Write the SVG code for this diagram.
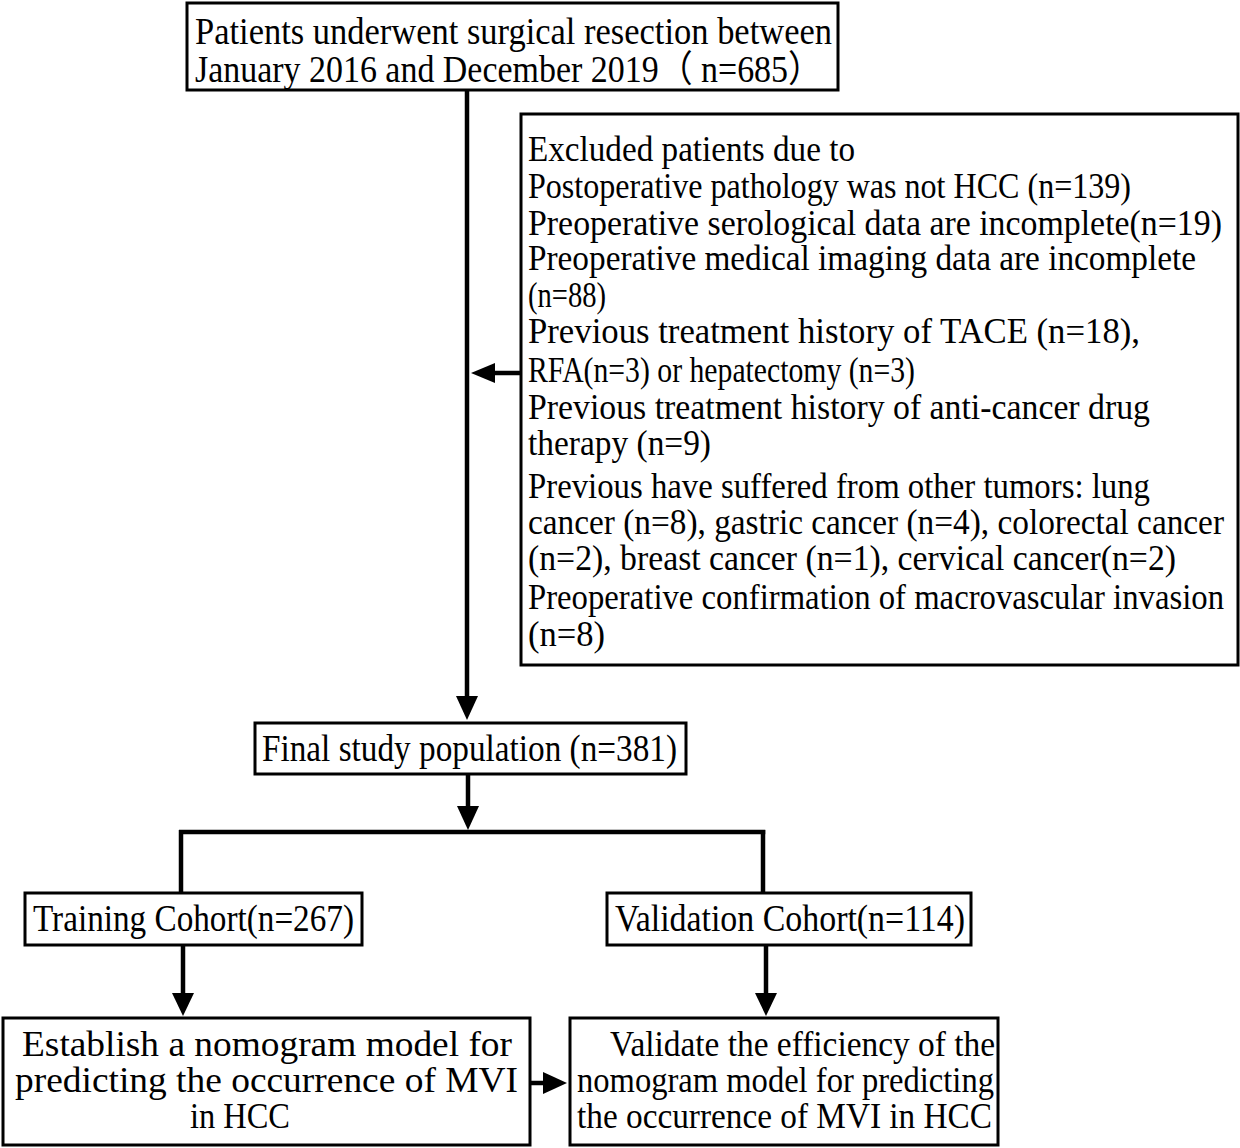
<svg xmlns="http://www.w3.org/2000/svg" width="1240" height="1148" viewBox="0 0 1240 1148">
<style>
.box{fill:#fff;stroke:#000;stroke-width:3}
.t{font-family:'Liberation Serif','Times New Roman',serif;font-size:37px;fill:#000}
.s{font-size:35px}
.cjk{font-family:'Liberation Serif','Noto Sans CJK SC',serif}
.ln{stroke:#000;stroke-width:4.5;fill:none}
.ah{fill:#000;stroke:none}
</style>
<rect width="1240" height="1148" fill="#fff"/>
<g id="connectors">
<line class="ln" x1="467" y1="90" x2="467" y2="700"/>
<polygon class="ah" points="456,696 478,696 467,720"/>
<line class="ln" x1="521" y1="373" x2="492" y2="373"/>
<polygon class="ah" points="471,373 495,363 495,383"/>
<line class="ln" x1="468" y1="774" x2="468" y2="810"/>
<polygon class="ah" points="457,806 479,806 468,830"/>
<line class="ln" x1="179" y1="832" x2="765.25" y2="832"/>
<line class="ln" x1="181" y1="830" x2="181" y2="893"/>
<line class="ln" x1="763" y1="830" x2="763" y2="893"/>
<line class="ln" x1="183" y1="945" x2="183" y2="997"/>
<polygon class="ah" points="172,993 194,993 183,1016"/>
<line class="ln" x1="766" y1="945" x2="766" y2="997"/>
<polygon class="ah" points="755,993 777,993 766,1016"/>
<line class="ln" x1="530" y1="1083" x2="547" y2="1083"/>
<polygon class="ah" points="543,1072 543,1094 567,1083"/>
</g>
<g id="node-start">
<rect class="box" x="187" y="3" width="651" height="87"/>
<text class="t" x="195" y="44" textLength="637" lengthAdjust="spacingAndGlyphs">Patients underwent surgical resection between</text>
<text class="t cjk" x="195" y="82" textLength="627" lengthAdjust="spacingAndGlyphs">January 2016 and December 2019（ n=685）</text>
</g>
<g id="node-excluded">
<rect class="box" x="521" y="114" width="717" height="551"/>
<text class="t s" x="528" y="161" textLength="327" lengthAdjust="spacingAndGlyphs">Excluded patients due to</text>
<text class="t s" x="528" y="198" textLength="603" lengthAdjust="spacingAndGlyphs">Postoperative pathology was not HCC (n=139)</text>
<text class="t s" x="528" y="235" textLength="694" lengthAdjust="spacingAndGlyphs">Preoperative serological data are incomplete(n=19)</text>
<text class="t s" x="528" y="270" textLength="668" lengthAdjust="spacingAndGlyphs">Preoperative medical imaging data are incomplete</text>
<text class="t s" x="528" y="307" textLength="78" lengthAdjust="spacingAndGlyphs">(n=88)</text>
<text class="t s" x="528" y="343" textLength="612" lengthAdjust="spacingAndGlyphs">Previous treatment history of TACE (n=18),</text>
<text class="t s" x="528" y="382" textLength="387" lengthAdjust="spacingAndGlyphs">RFA(n=3) or hepatectomy (n=3)</text>
<text class="t s" x="528" y="419" textLength="622" lengthAdjust="spacingAndGlyphs">Previous treatment history of anti-cancer drug</text>
<text class="t s" x="528" y="455" textLength="183" lengthAdjust="spacingAndGlyphs">therapy (n=9)</text>
<text class="t s" x="528" y="498" textLength="622" lengthAdjust="spacingAndGlyphs">Previous have suffered from other tumors: lung</text>
<text class="t s" x="528" y="534" textLength="696" lengthAdjust="spacingAndGlyphs">cancer (n=8), gastric cancer (n=4), colorectal cancer</text>
<text class="t s" x="528" y="570" textLength="648" lengthAdjust="spacingAndGlyphs">(n=2), breast cancer (n=1), cervical cancer(n=2)</text>
<text class="t s" x="528" y="609" textLength="696" lengthAdjust="spacingAndGlyphs">Preoperative confirmation of macrovascular invasion</text>
<text class="t s" x="528" y="646" textLength="77" lengthAdjust="spacingAndGlyphs">(n=8)</text>
</g>
<g id="node-final">
<rect class="box" x="255" y="723" width="431" height="51"/>
<text class="t" x="262" y="761" textLength="415" lengthAdjust="spacingAndGlyphs">Final study population (n=381)</text>
</g>
<g id="node-training">
<rect class="box" x="25" y="893" width="337" height="52"/>
<text class="t" x="33" y="931" textLength="321" lengthAdjust="spacingAndGlyphs">Training Cohort(n=267)</text>
</g>
<g id="node-validation">
<rect class="box" x="607" y="893" width="364" height="52"/>
<text class="t" x="615" y="931" textLength="350" lengthAdjust="spacingAndGlyphs">Validation Cohort(n=114)</text>
</g>
<g id="node-establish">
<rect class="box" x="3" y="1018" width="527" height="127"/>
<text class="t s" x="22" y="1056" textLength="490" lengthAdjust="spacingAndGlyphs">Establish a nomogram model for</text>
<text class="t s" x="15" y="1092" textLength="503" lengthAdjust="spacingAndGlyphs">predicting the occurrence of MVI</text>
<text class="t s" x="190" y="1128" textLength="100" lengthAdjust="spacingAndGlyphs">in HCC</text>
</g>
<g id="node-validate">
<rect class="box" x="570" y="1018" width="428" height="127"/>
<text class="t s" x="610" y="1056" textLength="385" lengthAdjust="spacingAndGlyphs">Validate the efficiency of the</text>
<text class="t s" x="577" y="1092" textLength="417" lengthAdjust="spacingAndGlyphs">nomogram model for predicting</text>
<text class="t s" x="577" y="1128" textLength="415" lengthAdjust="spacingAndGlyphs">the occurrence of MVI in HCC</text>
</g>
</svg>
